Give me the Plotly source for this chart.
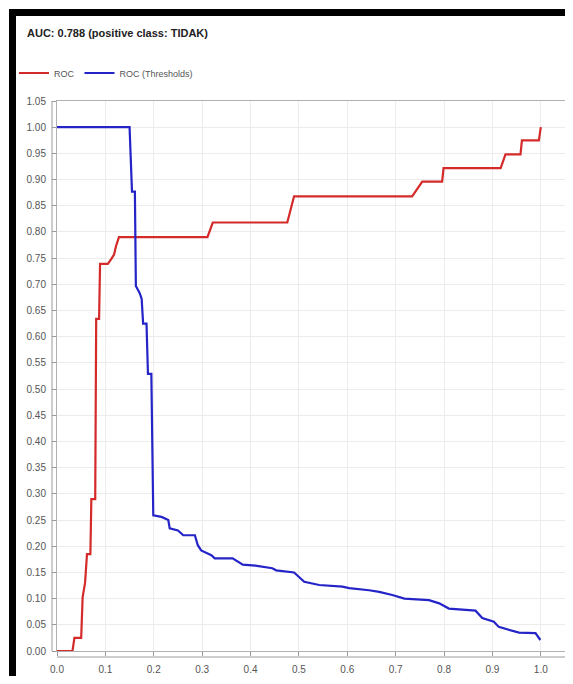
import plotly.graph_objects as go

# ROC curve (false positive rate vs true positive rate)
roc_fpr = [0, 0.032, 0.036, 0.050, 0.053, 0.058, 0.062, 0.069, 0.071, 0.079, 0.081, 0.087, 0.089,
           0.105, 0.112, 0.118, 0.122, 0.128, 0.311, 0.322, 0.476, 0.490, 0.734, 0.755, 0.796,
           0.799, 0.917, 0.927, 0.958, 0.961, 0.996, 1.0]
roc_tpr = [0, 0, 0.025, 0.025, 0.103, 0.130, 0.185, 0.185, 0.290, 0.290, 0.634, 0.634, 0.739,
           0.739, 0.748, 0.757, 0.773, 0.790, 0.790, 0.818, 0.818, 0.868, 0.868, 0.896, 0.896,
           0.922, 0.922, 0.948, 0.948, 0.975, 0.975, 1.0]

# ROC thresholds (false positive rate vs threshold)
thr_fpr = [0, 0.150, 0.155, 0.161, 0.163, 0.171, 0.175, 0.178, 0.185, 0.188, 0.195, 0.199, 0.216,
           0.230, 0.233, 0.250, 0.261, 0.285, 0.291, 0.298, 0.319, 0.326, 0.363, 0.377, 0.384,
           0.410, 0.445, 0.453, 0.490, 0.511, 0.542, 0.590, 0.604, 0.645, 0.666, 0.693, 0.718,
           0.769, 0.790, 0.810, 0.865, 0.879, 0.903, 0.913, 0.934, 0.955, 0.989, 0.999]
thr_val = [1.0, 1.0, 0.877, 0.877, 0.697, 0.683, 0.672, 0.625, 0.625, 0.529, 0.529, 0.259, 0.256,
           0.250, 0.234, 0.230, 0.221, 0.221, 0.202, 0.192, 0.183, 0.177, 0.177, 0.168, 0.165,
           0.163, 0.158, 0.154, 0.150, 0.132, 0.126, 0.123, 0.120, 0.116, 0.113, 0.107, 0.100,
           0.097, 0.091, 0.081, 0.077, 0.063, 0.056, 0.046, 0.040, 0.035, 0.034, 0.021]

title_text = "AUC: 0.788 (positive class: TIDAK)"
series_names = ["ROC", "ROC (Thresholds)"]

OFF = 8  # page body margin
W, H = 573 - 2 * OFF, 684 - 2 * OFF
L, T = 57 - OFF, 101 - OFF
R = 0
B = H - (651 - OFF)
pw, ph = W - L - R, H - T - B

def px(xp):
    # reference page x -> paper fraction
    return (xp - OFF - L) / pw

def py(yp):
    # reference page y -> paper fraction
    return (H - B - (yp - OFF)) / ph

fig = go.Figure()
fig.add_trace(go.Scatter(x=roc_fpr, y=roc_tpr, mode="lines", name=series_names[0],
                         line=dict(color="#d42a2a", width=2.2)))
fig.add_trace(go.Scatter(x=thr_fpr, y=thr_val, mode="lines", name=series_names[1],
                         line=dict(color="#2424c8", width=2.2)))

tickfont = dict(family="Liberation Sans, Arial, sans-serif", size=10, color="#555555")
fig.update_xaxes(range=[0, 1.05], dtick=0.1, tick0=0, tickformat=".1f", showgrid=True,
                 gridcolor="#ececec", gridwidth=1, zeroline=False, showline=True, mirror=True,
                 linecolor="#b0b0b0", linewidth=1, ticks="outside", ticklen=4,
                 tickcolor="#999999", tickfont=tickfont, ticklabelstandoff=5)
fig.update_yaxes(range=[0, 1.05], dtick=0.05, tick0=0, tickformat=".2f", showgrid=True,
                 gridcolor="#ececec", gridwidth=1, zeroline=False, showline=True, mirror=True,
                 linecolor="#b0b0b0", linewidth=1, ticks="outside", ticklen=4,
                 tickcolor="#999999", tickfont=tickfont, ticklabelstandoff=4)

shapes = [
    # offset axis lines (JFreeChart style)
    dict(type="line", xref="paper", yref="paper", x0=px(52), x1=px(52), y0=py(101), y1=py(651),
         line=dict(color="#9a9a9a", width=1)),
    dict(type="line", xref="paper", yref="paper", x0=px(57), x1=px(565), y0=py(657), y1=py(657),
         line=dict(color="#9a9a9a", width=1)),
    # black frame
    dict(type="rect", xref="paper", yref="paper", x0=px(9), x1=px(565), y0=py(9), y1=py(16),
         fillcolor="black", line=dict(width=0)),
    dict(type="rect", xref="paper", yref="paper", x0=px(9), x1=px(16), y0=py(9), y1=py(676),
         fillcolor="black", line=dict(width=0)),
]

fig.update_layout(
    width=W, height=H,
    margin=dict(l=L, r=R, t=T, b=B),
    paper_bgcolor="white", plot_bgcolor="white",
    title=dict(text="<b>" + title_text + "</b>", x=(27 - OFF) / W, xref="container",
               xanchor="left", y=1 - (33 - OFF) / H, yref="container", yanchor="middle",
               font=dict(family="Liberation Sans, Arial, sans-serif", size=11, color="#222222")),
    showlegend=True,
    legend=dict(orientation="h", x=px(14), y=py(73), xanchor="left", yanchor="middle",
                font=dict(family="Liberation Sans, Arial, sans-serif", size=9, color="#555555"),
                itemwidth=30, tracegroupgap=0, bgcolor="rgba(0,0,0,0)"),
    shapes=shapes,
)

fig.write_html("out.html")
